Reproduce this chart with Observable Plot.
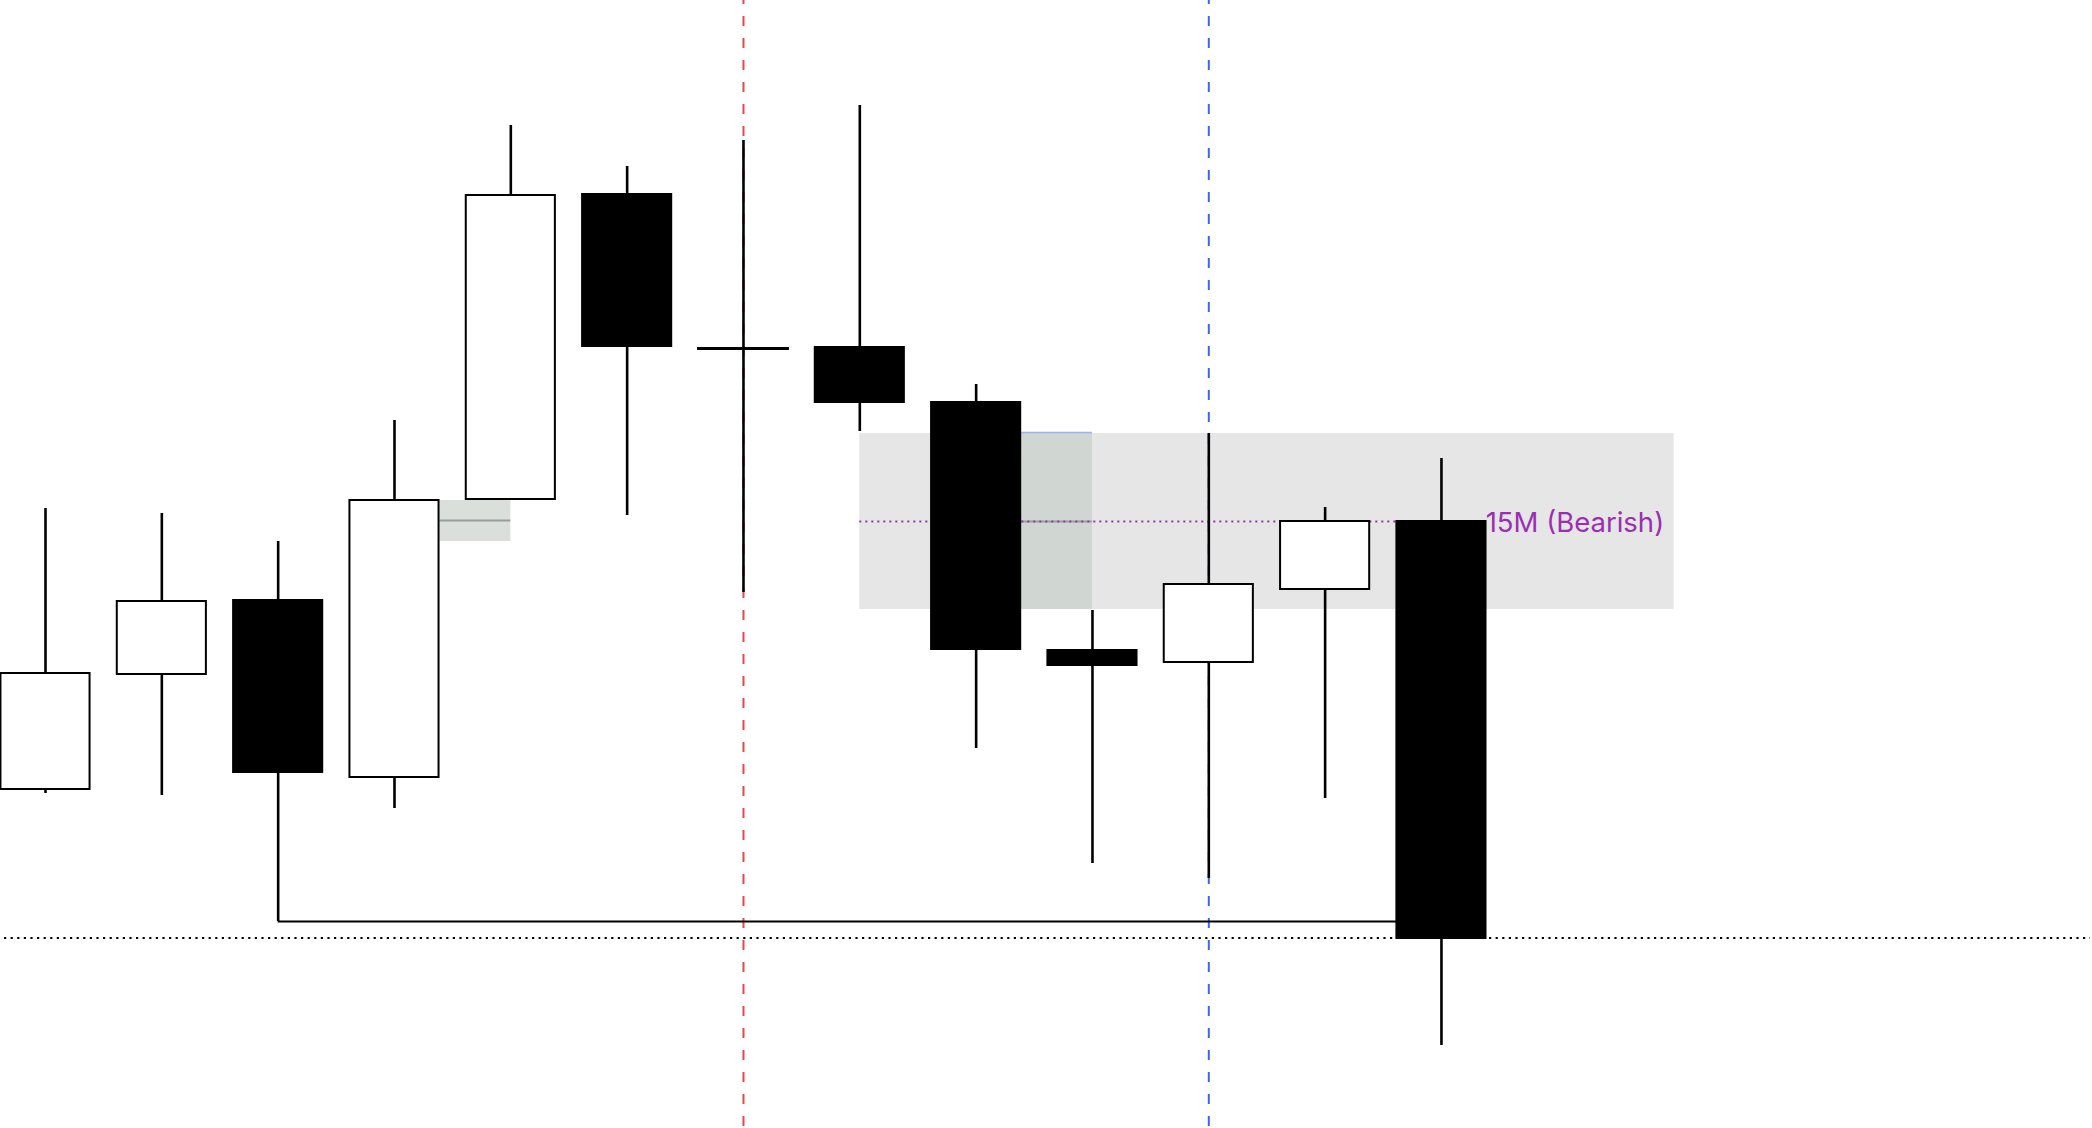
<!DOCTYPE html>
<html>
<head>
<meta charset="utf-8">
<script src="https://cdn.jsdelivr.net/npm/d3@7"></script>
<script src="https://cdn.jsdelivr.net/npm/@observablehq/plot@0.6"></script>
<style>
  html, body { margin: 0; padding: 0; background: #ffffff; }
  #chart svg { display: block; }
</style>
</head>
<body>
<div id="chart"></div>
<script>
// ---- candle data (arbitrary price units) ----
const bars   = [0, 1, 2, 3, 4, 5, 6, 7, 8, 9, 10, 11, 12];
const opens  = [33.9, 45.4, 52.8, 35.1, 62.9, 93.4, 78.0, 78.1, 72.6, 47.8, 46.6, 53.9, 60.7];
const highs  = [62.0, 61.5, 58.7, 70.8, 100.3, 96.2, 98.8, 102.3, 74.4, 51.8, 69.5, 62.1, 67.0];
const lows   = [33.5, 33.3, 20.7, 32.0, 62.9, 61.3, 53.6, 69.7, 38.0, 26.5, 25.0, 33.0, 8.3];
const closes = [45.5, 52.7, 35.6, 62.8, 93.3, 78.2, 78.0, 72.6, 47.9, 46.3, 54.4, 60.7, 19.0];

// ---- annotations ----
const zoneBars   = [7, 14];          // bearish 15M zone, bar span
const zoneLevels = [51.9, 69.5];     // zone low / high
const zoneMid    = 60.7;             // dotted purple level
const zoneLabel  = "15M (Bearish)";
const fvgStarts  = [3.39, 8.39];
const fvgEnds    = [4.0, 9.0];
const fvgLows    = [58.7, 51.9];
const fvgHighs   = [62.8, 69.6];
const fvgMids    = [60.8, 60.7];
const sessionBars = [6, 10];         // red, blue dashed verticals
const liquidityLevel = 20.7;         // low of bar 2, swept by bar 12
const liquidityBars  = [2, 12];
const closeLevel = 19.05;            // dotted black level

const candles = bars.map((i, k) => ({i, open: opens[k], high: highs[k], low: lows[k], close: closes[k]}));
const fvgs = fvgStarts.map((s, k) => ({x1: s, x2: fvgEnds[k], lo: fvgLows[k], hi: fvgHighs[k], mid: fvgMids[k]}));
const sessions = sessionBars.map((b, k) => ({b, c: k === 0 ? "#e5484d" : "#3d66f0"}));

const W = 2092, H = 1128;
const step = 116.33;
const half = 0.383;

const chart = Plot.plot({
  width: W,
  height: H,
  margin: 0,
  style: {background: "#ffffff"},
  x: {type: "linear", domain: [-45 / step, (W - 45) / step], axis: null},
  y: {type: "linear", domain: [0, 112.8], axis: null},
  marks: [
    // zone
    Plot.rect([zoneBars], {x1: d => d[0], x2: d => d[1], y1: zoneLevels[0], y2: zoneLevels[1], fill: "#e6e6e6"}),
    // FVG boxes
    Plot.rect(fvgs, {x1: "x1", x2: "x2", y1: "lo", y2: "hi", fill: (d, k) => k === 0 ? "#dadfdc" : "#d0d6d2"}),
    Plot.ruleY(fvgs, {y: "mid", x1: "x1", x2: "x2", stroke: "#9a9e9a", strokeWidth: 2}),
    Plot.ruleY(fvgs.slice(1), {y: "hi", x1: "x1", x2: "x2", stroke: "#9fb1f7", strokeWidth: 1.5}),
    // zone mid dotted line
    Plot.ruleY([zoneMid], {x1: zoneBars[0], x2: 12.37, stroke: "#9a2fb4", strokeWidth: 2, strokeDasharray: "2,4"}),
    // dotted black level
    Plot.ruleY([closeLevel], {x1: 4 / step - 45 / step, x2: (W - 2) / step - 45 / step, stroke: "#000", strokeWidth: 2, strokeDasharray: "2.2,4.4"}),
    // session verticals
    Plot.ruleX(sessions, {x: "b", stroke: "c", strokeWidth: 2, strokeDasharray: "10,12", strokeDashoffset: 6}),
    // liquidity line
    Plot.ruleY([liquidityLevel], {x1: liquidityBars[0], x2: liquidityBars[1], stroke: "#000", strokeWidth: 2}),
    // wicks
    Plot.ruleX(candles, {x: "i", y1: "low", y2: "high", stroke: "#000", strokeWidth: 2.6}),
    // bodies
    Plot.rect(candles.filter(d => d.open !== d.close), {
      x1: d => d.i - half, x2: d => d.i + half, y1: "open", y2: "close",
      fill: d => d.close > d.open ? "#ffffff" : "#000000",
      stroke: "#000", strokeWidth: 2
    }),
    // doji
    Plot.ruleY(candles.filter(d => d.open === d.close), {y: "open", x1: d => d.i - 0.395, x2: d => d.i + 0.395, stroke: "#000", strokeWidth: 3}),
    // label
    Plot.text([zoneLabel], {x: 12.38, y: zoneMid, text: d => d, textAnchor: "start", fill: "#9a2fb4", fontSize: 27.5, fontFamily: "Inter, 'Noto Sans', sans-serif", dy: 2})
  ]
});
document.getElementById("chart").appendChild(chart);
</script>
</body>
</html>
